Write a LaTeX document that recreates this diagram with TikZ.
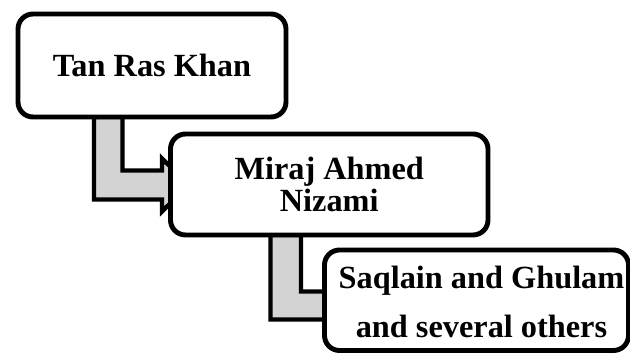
\documentclass[tikz,border=0pt]{standalone}
\usepackage{fontspec}
\setmainfont{Liberation Serif}
\usetikzlibrary{calc}
\newcommand\pxu{0.02cm}
\definecolor{connfill}{RGB}{211,211,211}
\tikzset{
  boxstyle/.style={draw=black, line width=2.8pt, fill=white, rounded corners=0.3cm,
    outer sep=0pt, inner sep=0pt, align=center,
    font=\fontsize{18.4}{17.8}\selectfont\bfseries},
  conn/.style={draw=black, line width=2.5pt, fill=connfill, line join=miter},
}
\begin{document}
\begin{tikzpicture}[x=0.02cm, y=-0.02cm]
\useasboundingbox (0,0) rectangle (630,354);
% boxes (placed first to get anchors; redrawn on top later)
\path (152,65.5) node[boxstyle, draw=none, fill=none, minimum width=268*\pxu, minimum height=103*\pxu] (b1) {};
\path (329.25,184.5) node[boxstyle, draw=none, fill=none, minimum width=317.5*\pxu, minimum height=101*\pxu] (b2) {};
\path (476.5,300.25) node[boxstyle, draw=none, fill=none, minimum width=304*\pxu, minimum height=100.5*\pxu] (b3) {};
% connector 1 points
\coordinate (a1) at ($(b1.south west)+(76,0)$);
\coordinate (a2) at ($(b1.south west)+(104.5,0)$);
\coordinate (h1) at ($(b2.west)+(-8.5,15)$);
\coordinate (h2) at ($(b2.west)+(-8.5,-14)$);
\draw[conn] (a1) -- (a1 |- h1) -- (h1)
  -- ($(b2.west)+(-8.5,27)$)
  -- ($(b2.west)+(18.5,0.5)$)
  -- ($(b2.west)+(-8.5,-26)$)
  -- (h2) -- (a2 |- h2) -- (a2) -- cycle;
% connector 2 points
\coordinate (c1) at ($(b2.south west)+(100,0)$);
\coordinate (c2) at ($(b2.south west)+(130.5,0)$);
\coordinate (k1) at ($(b3.west)+(6,19.25)$);
\coordinate (k2) at ($(b3.west)+(6,-8.75)$);
\draw[conn] (c1) -- (c1 |- k1) -- (k1)
  -- ($(b3.west)+(6,31.25)$)
  -- ($(b3.west)+(32,5.25)$)
  -- ($(b3.west)+(6,-20.75)$)
  -- (k2) -- (c2 |- k2) -- (c2) -- cycle;
% visible boxes
\node[boxstyle, minimum width=268*\pxu, minimum height=103*\pxu] (n1) at (b1) {Tan Ras Khan};
\node[boxstyle, minimum width=317.5*\pxu, minimum height=101*\pxu] (n2) at (b2)
  {Miraj Ahmed\\Nizami};
\node[boxstyle, minimum width=304*\pxu, minimum height=100.5*\pxu,
  label={[font=\fontsize{18.4}{27.8}\selectfont\bfseries, align=center, xshift=5*\pxu, yshift=-2*\pxu]center:Saqlain and Ghulam\\and several others}] (n3) at (b3) {};
\end{tikzpicture}
\end{document}
